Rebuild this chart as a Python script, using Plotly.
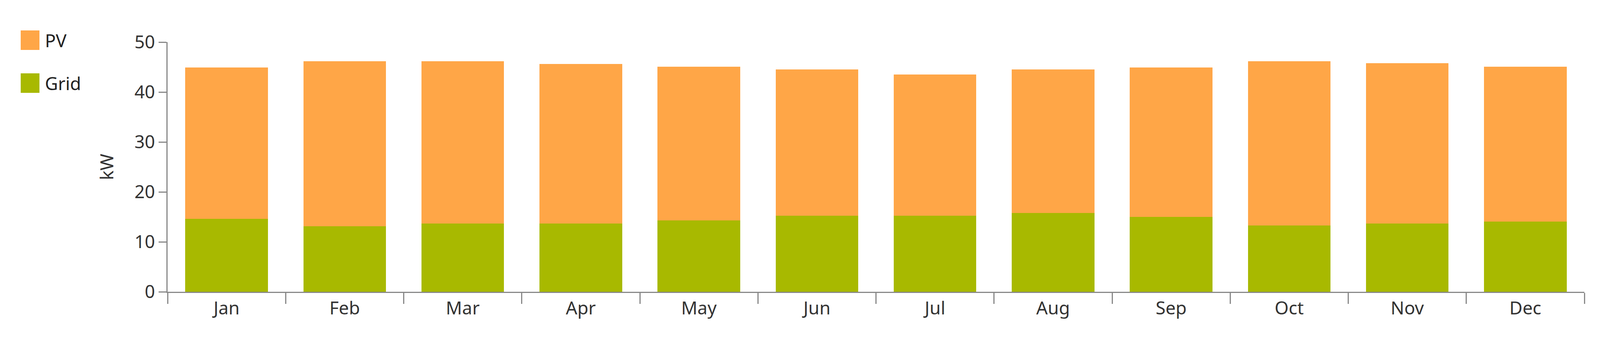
import plotly.graph_objects as go

months = ["Jan", "Feb", "Mar", "Apr", "May", "Jun", "Jul", "Aug", "Sep", "Oct", "Nov", "Dec"]
grid = [14.6, 13.1, 13.7, 13.7, 14.3, 15.2, 15.2, 15.8, 15.0, 13.3, 13.7, 14.1]
total = [44.9, 46.2, 46.2, 45.6, 45.1, 44.5, 43.5, 44.5, 44.9, 46.2, 45.8, 45.1]
pv = [round(t - g, 1) for t, g in zip(total, grid)]

PV_COLOR = "#FFA647"
GRID_COLOR = "#A8B900"
FONT = "Noto Sans"

H = 900
L, R, T, B = 421, 32, 100, 160

fig = go.Figure()
fig.add_trace(go.Bar(x=months, y=grid, name="Grid", marker=dict(color=GRID_COLOR, line=dict(width=0))))
fig.add_trace(go.Bar(x=months, y=pv, name="PV", marker=dict(color=PV_COLOR, line=dict(width=0))))

# width left to the browser window so nothing gets cut off
fig.update_layout(
    barmode="stack", bargap=0.3, showlegend=False,
    autosize=True, height=H, margin=dict(l=L, r=R, t=T, b=B),
    plot_bgcolor="white", paper_bgcolor="white",
    font=dict(family=FONT, size=46, color="#333"),
)
fig.update_yaxes(range=[0, 50], dtick=10, showgrid=False, showline=True, linecolor="#888", linewidth=3,
                 ticks="outside", ticklen=20, tickwidth=3, tickcolor="#888",
                 title=dict(text="kW", font=dict(size=46), standoff=40), zeroline=False)
fig.update_xaxes(showgrid=False, showline=True, linecolor="#888", linewidth=3, tickson="boundaries",
                 ticks="outside", ticklen=28, tickwidth=3, tickcolor="#888")

# manual legend in the top-left corner, placed in pixels relative to the plot's top-left
for name, color, dy in [("PV", PV_COLOR, -30), ("Grid", GRID_COLOR, 80)]:
    fig.add_shape(type="rect", xref="paper", yref="paper", xsizemode="pixel", ysizemode="pixel",
                  xanchor=0, yanchor=1, x0=45 - L, x1=93 - L, y0=-dy - 50, y1=-dy,
                  fillcolor=color, line=dict(width=0))
    fig.add_annotation(xref="paper", yref="paper", x=0, y=1, xshift=105 - L, yshift=-dy - 25,
                       text=name, showarrow=False, xanchor="left", yanchor="middle",
                       font=dict(size=46, color="#222"))

fig.write_html("out.html", default_width="100%")
